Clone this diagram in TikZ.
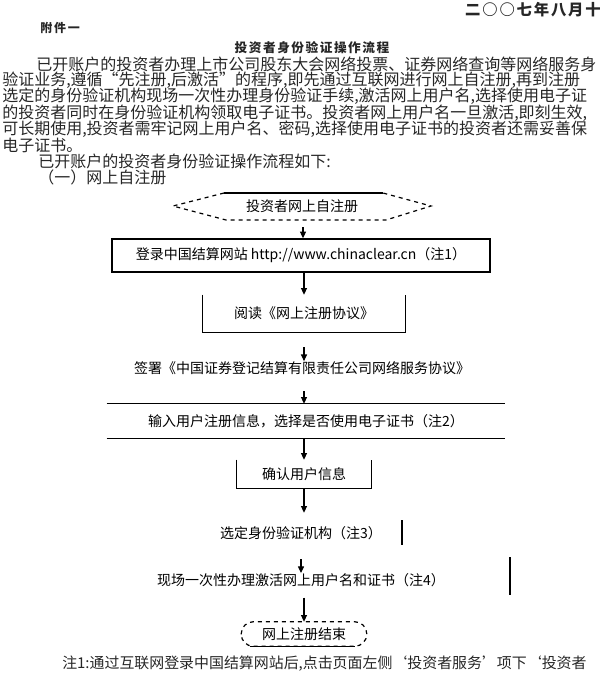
\documentclass[tikz,border=0pt]{standalone}
\usepackage{fontspec}
\setmainfont{Noto Sans CJK SC}
\usetikzlibrary{arrows.meta}

\begin{document}
\begin{tikzpicture}[x=0.75pt,y=-0.75pt,
    txt/.style={inner sep=0pt,anchor=west,text=black!85,font=\fontsize{12}{12}\selectfont},
    flow/.style={inner sep=0pt,font=\fontsize{10.5}{10.5}\selectfont},
    edge/.style={line width=0.9pt},
    arr/.style={-{Triangle[width=4.5pt,length=5pt]},line width=0.8pt}]
    \useasboundingbox (0,0) rectangle (600,675);
    \clip (0,0) rectangle (600,675);
    % header
    \node[txt,anchor=east,font=\bfseries\fontsize{11.5}{12}\selectfont\addfontfeature{LetterSpace=12}] (date) at (601,10) {二○○七年八月十};
    \node[txt,font=\bfseries\fontsize{9}{10}\selectfont\addfontfeature{LetterSpace=15}] (annex) at (40,28) {附件一};
    \node[txt,anchor=center,font=\bfseries\fontsize{9.5}{10}\selectfont\addfontfeature{LetterSpace=12}] (title) at (312,48) {投资者身份验证操作流程};
    % body text
    \node[txt] (l1) at (36,64) {已开账户的投资者办理上市公司股东大会网络投票、证券网络查询等网络服务身};
    \node[txt] (l2) at (2,80) {验证业务,遵循“先注册,后激活”的程序,即先通过互联网进行网上自注册,再到注册};
    \node[txt] (l3) at (2,96) {选定的身份验证机构现场一次性办理身份验证手续,激活网上用户名,选择使用电子证};
    \node[txt] (l4) at (2,113) {的投资者同时在身份验证机构领取电子证书。投资者网上用户名一旦激活,即刻生效,};
    \node[txt] (l5) at (2,129) {可长期使用,投资者需牢记网上用户名、密码,选择使用电子证书的投资者还需妥善保};
    \node[txt] (l6) at (2,145) {电子证书。};
    \node[txt] (l7) at (38,161) {已开账户的投资者身份验证操作流程如下:};
    \node[txt] (l8) at (38,177) {（一）网上自注册};
    % flow chart
    \node[flow] (start) at (302,206) {投资者网上自注册};
    \draw[edge,dashed] (224,193) -- (173,206) -- (226,220) -- (386,220) -- (431,206) -- (383,193);
    \draw[edge] (224,193) -- (383,193);
    \node[flow,draw,line width=1.1pt,minimum width=283.5pt,minimum height=24.75pt] (login) at (301,255.5) {登录中国结算网站 http://www.chinaclear.cn（注1）};
    \node[flow,minimum width=151.5pt,minimum height=27.75pt] (read) at (304,313.5) {阅读《网上注册协议》};
    \draw[edge] (read.north west) -- (read.south west) -- (read.south east) -- (read.north east);
    \node[flow] (sign) at (302,368) {签署《中国证券登记结算有限责任公司网络服务协议》};
    \node[flow,minimum width=298.5pt,minimum height=25.5pt] (input) at (306,421) {输入用户注册信息，选择是否使用电子证书（注2）};
    \draw[edge] (input.north west) -- (input.north east);
    \draw[edge] (input.south west) -- (input.south east);
    \node[flow,minimum width=100.5pt,minimum height=21pt] (confirm) at (304,474) {确认用户信息};
    \draw[edge] (confirm.north west) -- (confirm.south west) -- (confirm.south east) -- (confirm.north east);
    \node[flow] (choose) at (301,533) {选定身份验证机构（注3）};
    \draw[edge] (402,520) -- (402,545);
    \node[flow] (visit) at (301,580) {现场一次性办理激活网上用户名和证书（注4）};
    \draw[edge] (510,557) -- (510,595);
    \node[flow,minimum width=93.75pt,minimum height=18pt] (end) at (304,634) {网上注册结束};
    \draw[edge,dashed,rounded corners=9pt] (end.south west) rectangle (end.north east);
    \draw[edge] (end.south west) ++(9,0) -- ([xshift=-9]end.south east);
    % arrows
    \coordinate (c1) at (303,227);
    \coordinate (c2) at (304,347);
    \coordinate (c3) at (304,391);
    \coordinate (c4) at (301,559);
    \draw[arr] (c1) -- (login.north -| c1);
    \draw[arr] (read.north |- login.south) -- (read.north);
    \draw[arr] (c2) -- (sign.north -| c2);
    \draw[arr] (c3) -- (input.north -| c3);
    \draw[arr] (confirm.north |- input.south) -- (confirm.north);
    \draw[arr,shorten >=10pt] (confirm.south) -- (confirm.south |- choose.north);
    \draw[arr] (c4) -- (visit.north -| c4);
    \draw[arr,shorten <=8pt] (visit.south -| end.north) -- (end.north);
    % footnote
    \node[txt,font=\fontsize{11.2}{12}\selectfont] (note) at (62,664) {注1:通过互联网登录中国结算网站后,点击页面左侧‘投资者服务’项下‘投资者};
\end{tikzpicture}
\end{document}
